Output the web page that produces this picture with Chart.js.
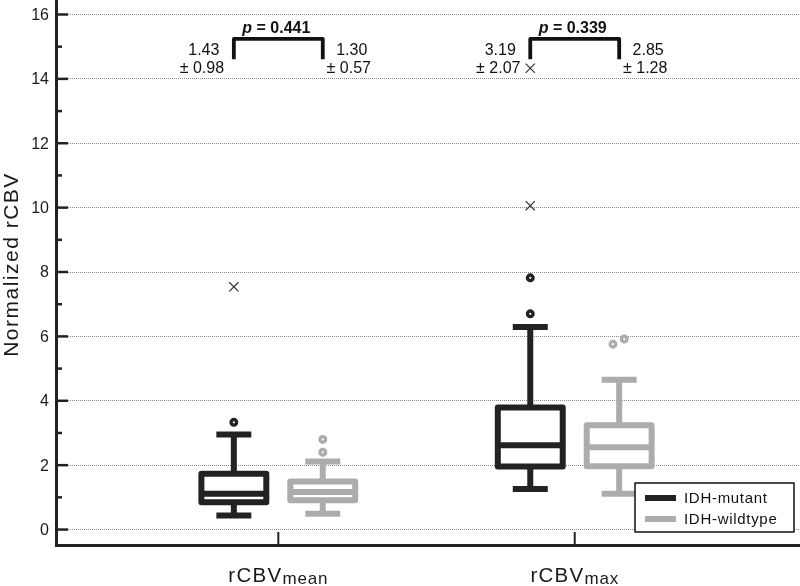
<!DOCTYPE html>
<html>
<head>
<meta charset="utf-8">
<script src="https://cdn.jsdelivr.net/npm/chart.js@4.4.0/dist/chart.umd.min.js"></script>
<style>
html,body{margin:0;padding:0;background:#fff;}
#wrap{width:800px;height:586px;position:relative;}
</style>
</head>
<body>
<div id="wrap"><canvas id="c"></canvas></div>
<script>
// ---------- data ----------
const categories = [1, 2];
const categoryMain = ['rCBV', 'rCBV'];
const categorySub = ['mean', 'max'];
const groupNames = ['IDH-mutant', 'IDH-wildtype'];

// box stats per category: [lower whisker, Q1, median, Q3, upper whisker]
const mutantBox   = [[0.44, 0.85, 1.11, 1.73, 2.95], [1.26, 1.96, 2.62, 3.79, 6.29]];
const wildtypeBox = [[0.49, 0.91, 1.17, 1.49, 2.11], [1.11, 1.97, 2.56, 3.24, 4.65]];

// outliers (circles) per category
const mutantOutliers   = [[3.33], [6.70, 7.82]];
const wildtypeOutliers = [[2.40, 2.80], [5.76, 5.92]];
const wildtypeOutlierJitter = [[0, 0], [-0.021, 0.017]];
// extreme values (crosses) per category, IDH-mutant
const mutantExtremes = [[7.54], [10.06, 14.33]];

// mean ± SD per category: [mutant, wildtype]
const groupMeans = [[1.43, 1.30], [3.19, 2.85]];
const groupSDs   = [[0.98, 0.57], [2.07, 1.28]];
const pValues    = ['0.441', '0.339'];

const yTickLabels = ['0', '2', '4', '6', '8', '10', '12', '14', '16'];
const yTitle = 'Normalized rCBV';

// ---------- style ----------
const FONT = '"Liberation Sans", Arial, Helvetica, sans-serif';
const DARK = '#222222';
const GRAY = '#acacac';
const GROUP_OFFSET = 0.15;
const BOX_W = 0.219;
const CAP_W = 0.118;
const STROKE = 6;

function line(ctx, x1, y1, x2, y2) {
  ctx.beginPath(); ctx.moveTo(x1, y1); ctx.lineTo(x2, y2); ctx.stroke();
}

const boxPlugin = {
  id: 'boxes',
  beforeDatasetsDraw(chart) {
    const {ctx, scales: {x, y}} = chart;
    const unit = x.getPixelForValue(1) - x.getPixelForValue(0);
    const half = BOX_W * unit / 2, capHalf = CAP_W * unit / 2;
    ctx.save();
    const series = [
      {box: mutantBox, color: DARK, offset: -GROUP_OFFSET},
      {box: wildtypeBox, color: GRAY, offset: GROUP_OFFSET}
    ];
    series.forEach(s => s.box.forEach((b, i) => {
      const cx = x.getPixelForValue(categories[i] + s.offset);
      const [lo, q1, med, q3, hi] = b.map(v => y.getPixelForValue(v));
      ctx.strokeStyle = s.color;
      ctx.lineWidth = STROKE;
      ctx.lineCap = 'butt';
      line(ctx, cx, q3, cx, hi);
      line(ctx, cx, q1, cx, lo);
      line(ctx, cx - capHalf, hi, cx + capHalf, hi);
      line(ctx, cx - capHalf, lo, cx + capHalf, lo);
      ctx.lineJoin = 'round';
      ctx.strokeRect(cx - half, q3, 2 * half, q1 - q3);
      line(ctx, cx - half, med, cx + half, med);
    }));
    ctx.restore();
  },
  afterDraw(chart) {
    const {ctx, chartArea: ca, scales: {x, y}} = chart;
    ctx.save();
    // y tick marks and labels
    ctx.strokeStyle = DARK;
    ctx.fillStyle = '#1a1a1a';
    ctx.lineWidth = 2.5;
    ctx.font = '16px ' + FONT;
    ctx.textAlign = 'right';
    ctx.textBaseline = 'middle';
    y.ticks.forEach(t => {
      const py = y.getPixelForValue(t.value);
      const major = Math.abs(t.value % 2) < 1e-9;
      line(ctx, ca.left, py, ca.left + (major ? 12 : 6), py);
      if (major) {
        const lbl = yTickLabels[Math.round(t.value / 2)];
        if (lbl !== undefined) ctx.fillText(lbl, ca.left - 7, py + 1);
      }
    });
    // x tick marks and labels
    ctx.lineWidth = 2;
    categories.forEach((c, i) => {
      const px = x.getPixelForValue(c);
      line(ctx, px, ca.bottom, px, ca.bottom - 13);
      ctx.textAlign = 'left';
      ctx.textBaseline = 'alphabetic';
      ctx.font = '20.5px ' + FONT;
      ctx.letterSpacing = '1.3px';
      const w1 = ctx.measureText(categoryMain[i]).width;
      ctx.font = '17px ' + FONT;
      ctx.letterSpacing = '0.8px';
      const w2 = ctx.measureText(categorySub[i]).width;
      const sx = px - (w1 + w2) / 2;
      ctx.font = '20.5px ' + FONT;
      ctx.letterSpacing = '1.3px';
      ctx.fillText(categoryMain[i], sx, ca.bottom + 37);
      ctx.font = '17px ' + FONT;
      ctx.letterSpacing = '0.8px';
      ctx.fillText(categorySub[i], sx + w1, ca.bottom + 38.5);
    });
    // y title
    ctx.save();
    ctx.translate(17.5, (ca.top + ca.bottom) / 2 - 8);
    ctx.rotate(-Math.PI / 2);
    ctx.font = '21px ' + FONT;
    ctx.letterSpacing = '1.5px';
    ctx.textAlign = 'center';
    ctx.textBaseline = 'alphabetic';
    ctx.fillText(yTitle, 0, 0);
    ctx.restore();
    ctx.letterSpacing = '0px';

    // annotations
    const yl1 = y.getPixelForValue(14.75), yl2 = y.getPixelForValue(14.18);
    const yTop = y.getPixelForValue(15.24), yLeg = y.getPixelForValue(14.61);
    const yP = y.getPixelForValue(15.42);
    categories.forEach((c, i) => {
      const xl = x.getPixelForValue(c - GROUP_OFFSET);
      const xr = x.getPixelForValue(c + GROUP_OFFSET);
      ctx.fillStyle = '#111';
      ctx.font = '16px ' + FONT;
      ctx.textAlign = 'center';
      ctx.textBaseline = 'alphabetic';
      ctx.fillText(groupMeans[i][0].toFixed(2), xl - 30, yl1);
      ctx.fillText('\u00B1 ' + groupSDs[i][0].toFixed(2), xl - 32, yl2);
      ctx.fillText(groupMeans[i][1].toFixed(2), xr + 29, yl1);
      ctx.fillText('\u00B1 ' + groupSDs[i][1].toFixed(2), xr + 26, yl2);
      // bracket
      ctx.strokeStyle = '#111';
      ctx.lineWidth = 3.8;
      ctx.lineJoin = 'round';
      ctx.lineCap = 'butt';
      ctx.beginPath();
      ctx.moveTo(xl, yLeg); ctx.lineTo(xl, yTop); ctx.lineTo(xr, yTop); ctx.lineTo(xr, yLeg);
      ctx.stroke();
      // p label
      ctx.font = 'italic bold 16px ' + FONT;
      const wp = ctx.measureText('p').width;
      ctx.font = 'bold 16px ' + FONT;
      const rest = ' = ' + pValues[i];
      const wr = ctx.measureText(rest).width;
      const sx = (xl + xr) / 2 - 2 - (wp + wr) / 2;
      ctx.textAlign = 'left';
      ctx.font = 'italic bold 16px ' + FONT;
      ctx.fillText('p', sx, yP);
      ctx.font = 'bold 16px ' + FONT;
      ctx.fillText(rest, sx + wp, yP);
    });

    // legend
    const lx = ca.right - 165, ly = ca.bottom - 62, lw = 159, lh = 49;
    ctx.fillStyle = '#fff';
    ctx.fillRect(lx, ly, lw, lh);
    ctx.strokeStyle = '#111';
    ctx.lineWidth = 1.5;
    ctx.strokeRect(lx, ly, lw, lh);
    [DARK, GRAY].forEach((col, k) => {
      const cy = ly + 15 + k * 21;
      ctx.strokeStyle = col;
      ctx.lineWidth = 6;
      line(ctx, lx + 10, cy, lx + 41, cy);
      ctx.fillStyle = '#111';
      ctx.font = '15px ' + FONT;
      ctx.letterSpacing = '0.7px';
      ctx.textAlign = 'left';
      ctx.textBaseline = 'middle';
      ctx.fillText(groupNames[k], lx + 49, cy + 1);
    });
    ctx.letterSpacing = '0px';
    ctx.restore();
  }
};

function pts(values, offset, jitter) {
  const out = [];
  values.forEach((arr, i) => arr.forEach((v, j) => {
    out.push({x: categories[i] + offset + (jitter ? jitter[i][j] : 0), y: v});
  }));
  return out;
}

new Chart(document.getElementById('c'), {
  type: 'scatter',
  data: {
    datasets: [
      {label: groupNames[0], data: pts(mutantOutliers, -GROUP_OFFSET), pointStyle: 'circle',
       radius: 2.8, borderWidth: 3.4, borderColor: DARK, backgroundColor: '#fff'},
      {label: groupNames[1], data: pts(wildtypeOutliers, GROUP_OFFSET, wildtypeOutlierJitter), pointStyle: 'circle',
       radius: 2.8, borderWidth: 3.4, borderColor: GRAY, backgroundColor: '#fff'},
      {label: groupNames[0] + ' extreme', data: pts(mutantExtremes, -GROUP_OFFSET), pointStyle: 'crossRot',
       radius: 6.5, borderWidth: 1.2, borderColor: '#333', backgroundColor: '#333'}
    ]
  },
  options: {
    responsive: true,
    maintainAspectRatio: false,
    animation: false,
    events: [],
    layout: {padding: 0, autoPadding: false},
    plugins: {legend: {display: false}, tooltip: {enabled: false}},
    scales: {
      x: {
        type: 'linear', min: 0.25, max: 2.76,
        grid: {display: false, drawTicks: false},
        border: {display: true, color: DARK, width: 3},
        ticks: {display: false},
        afterFit(s) { s.height = 41; }
      },
      y: {
        type: 'linear', min: -0.48, max: 16.45,
        ticks: {display: false, stepSize: 1, includeBounds: false},
        grid: {
          drawTicks: false, lineWidth: 1,
          color: c => (c.tick && Math.abs(c.tick.value % 2) < 1e-9) ? '#8a8a8a' : 'rgba(0,0,0,0)'
        },
        border: {display: true, color: DARK, width: 3, dash: [1, 1]},
        afterFit(s) { s.width = 56; }
      }
    }
  },
  plugins: [boxPlugin]
});
</script>
</body>
</html>
